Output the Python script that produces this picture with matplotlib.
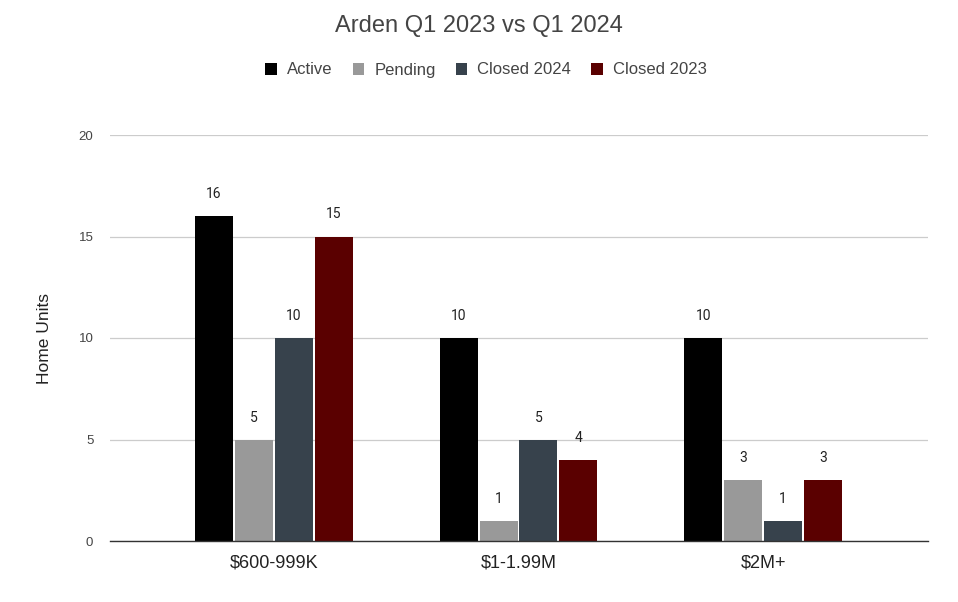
import matplotlib
matplotlib.use("Agg")
import matplotlib.pyplot as plt
import numpy as np

categories = ["$600-999K", "$1-1.99M", "$2M+"]
series_names = ["Active", "Pending", "Closed 2024", "Closed 2023"]
active = [16, 10, 10]
pending = [5, 1, 3]
closed_2024 = [10, 5, 1]
closed_2023 = [15, 4, 3]
series_values = [active, pending, closed_2024, closed_2023]
colors = ["#000000", "#999999", "#37424c", "#5a0000"]
yticks = [0, 5, 10, 15, 20]

plt.rcParams['font.family'] = ['Liberation Sans', 'DejaVu Sans']

fig = plt.figure(figsize=(9.58, 6.02), dpi=100)
ax = fig.add_axes([110/958, 1-541/602, (928-110)/958, (541-135)/602])

x = np.arange(len(categories))
step = 40/245
width = 38/245
offsets = (np.arange(4) - 1.5) * step
for i, (name, vals) in enumerate(zip(series_names, series_values)):
    ax.bar(x + offsets[i], vals, width=width, color=colors[i], label=name, zorder=3)
    for xi, v in zip(x + offsets[i], vals):
        ax.annotate(str(v), (xi, v), xytext=(0, 15), textcoords="offset pixels",
                    ha="center", va="bottom", fontsize=10, color="#222222",
                    family=["Roboto", "DejaVu Sans"])

ax.set_xlim((110-274)/245, 2 + (928-763)/245)
ax.set_ylim(0, 20)
ax.set_yticks(yticks)
ax.set_yticklabels([str(t) for t in yticks], fontsize=9.5, color="#444444")
ax.set_xticks(x)
ax.set_xticklabels(categories, fontsize=13, color="#222222")
ax.tick_params(axis="both", length=0)
ax.tick_params(axis="y", pad=12)
ax.tick_params(axis="x", pad=10)
ax.grid(axis="y", color="#cccccc", linewidth=0.9, zorder=0)
for s in ["top", "right", "left"]:
    ax.spines[s].set_visible(False)
ax.spines["bottom"].set_color("#333333")
ax.spines["bottom"].set_linewidth(1.0)
ax.spines["bottom"].set_zorder(4)

ax.set_ylabel("Home Units", fontsize=12.5, color="#222222", labelpad=19)

fig.text(0.5, 1-26/602, "Arden Q1 2023 vs Q1 2024", ha="center", va="center",
         fontsize=17, color="#444444")
fig.legend(loc="center", bbox_to_anchor=(486/958, 1-70/602), ncol=4, frameon=False,
           fontsize=12, handlelength=0.7, handleheight=0.7, handletextpad=0.6,
           columnspacing=1.2, labelcolor="#444444")

fig.savefig("out.png", dpi=100)
